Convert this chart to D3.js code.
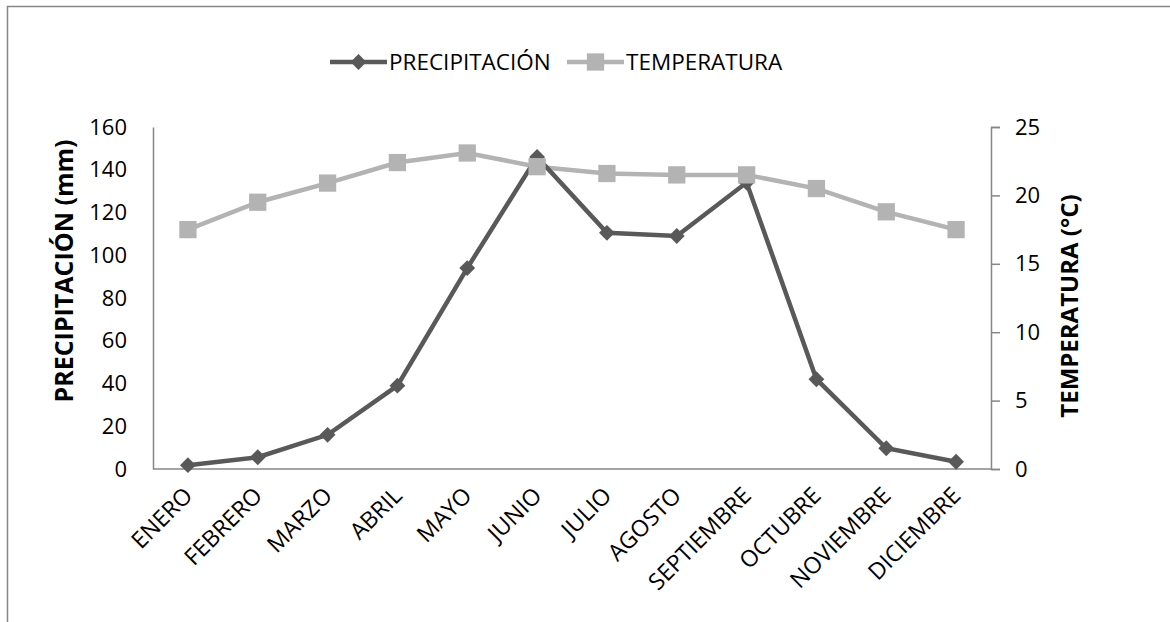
<!DOCTYPE html>
<html>
<head>
<meta charset="utf-8">
<script src="https://cdn.jsdelivr.net/npm/d3@7"></script>
<style>
  body { margin: 0; background: #fff; }
  svg text { font-family: "Open Sans", "Noto Sans", sans-serif; fill: #000; }
</style>
</head>
<body>
<div id="chart"></div>
<script>
var width = 1170;
var height = 622;

// datos
var meses = ["ENERO", "FEBRERO", "MARZO", "ABRIL", "MAYO", "JUNIO", "JULIO",
  "AGOSTO", "SEPTIEMBRE", "OCTUBRE", "NOVIEMBRE", "DICIEMBRE"];
var precipitacion = [1.8, 5.5, 16, 39, 94, 146, 110.5, 109, 134, 42, 9.7, 3.4];
var temperatura = [17.5, 19.5, 20.9, 22.4, 23.1, 22.1, 21.6, 21.5, 21.5, 20.5, 18.8, 17.5];
var ticksIzq = [0, 20, 40, 60, 80, 100, 120, 140, 160];
var ticksDer = [0, 5, 10, 15, 20, 25];

var colorPrec = "#595959";
var colorTemp = "#b3b3b3";
var colorEje = "#868686";

var margin = { left: 153, right: 991, top: 127, bottom: 469 };

var svg = d3.select("#chart").append("svg")
  .attr("width", width)
  .attr("height", height);

// marco exterior (recortado a la derecha y abajo)
svg.append("rect")
  .attr("x", 7.5).attr("y", 6.5)
  .attr("width", 1200).attr("height", 700)
  .attr("fill", "none")
  .attr("stroke", colorEje)
  .attr("stroke-width", 1.5);

var x = d3.scaleBand()
  .domain(meses)
  .range([margin.left, margin.right]);

var yIzq = d3.scaleLinear()
  .domain([0, 160])
  .range([margin.bottom, margin.top]);

var yDer = d3.scaleLinear()
  .domain([0, 25])
  .range([margin.bottom, margin.top]);

// eje izquierdo
var ejeIzq = svg.append("g")
  .attr("transform", "translate(" + margin.left + ",0)")
  .call(d3.axisLeft(yIzq).tickValues(ticksIzq).tickSize(0).tickPadding(26));
ejeIzq.select(".domain").attr("stroke", colorEje).attr("stroke-width", 1.5);
ejeIzq.selectAll("text").attr("font-size", 22).attr("fill", "#000");

// eje derecho
var ejeDer = svg.append("g")
  .attr("transform", "translate(" + margin.right + ",0)")
  .call(d3.axisRight(yDer).tickValues(ticksDer).tickSize(9).tickSizeOuter(9).tickPadding(15));
ejeDer.select(".domain").attr("stroke", colorEje).attr("stroke-width", 1.5);
ejeDer.selectAll("line").attr("stroke", colorEje).attr("stroke-width", 1.5);
ejeDer.selectAll("text").attr("font-size", 22).attr("fill", "#000");

// eje inferior
svg.append("line")
  .attr("x1", margin.left).attr("x2", margin.right)
  .attr("y1", margin.bottom).attr("y2", margin.bottom)
  .attr("stroke", colorEje)
  .attr("stroke-width", 1.5);

// etiquetas de meses
svg.selectAll("text.mes")
  .data(meses)
  .enter()
  .append("text")
  .attr("class", "mes")
  .attr("font-size", 23)
  .attr("text-anchor", "end")
  .attr("transform", function(d) {
    var cx = x(d) + x.bandwidth() / 2 + 6;
    return "translate(" + cx + ",497) rotate(-45)";
  })
  .text(function(d) { return d; });

// titulos de ejes
svg.append("text")
  .attr("font-size", 25)
  .attr("font-weight", "bold")
  .attr("text-anchor", "middle")
  .attr("transform", "translate(73,271) rotate(-90)")
  .text("PRECIPITACIÓN (mm)");

svg.append("text")
  .attr("font-size", 24)
  .attr("font-weight", "bold")
  .attr("text-anchor", "middle")
  .attr("transform", "translate(1078,306) rotate(-90)")
  .text("TEMPERATURA (°C)");

function cx(i) { return x(meses[i]) + x.bandwidth() / 2; }

// linea de temperatura
var lineaTemp = d3.line()
  .x(function(d, i) { return cx(i); })
  .y(function(d) { return yDer(d); });

svg.append("path")
  .datum(temperatura)
  .attr("d", lineaTemp)
  .attr("fill", "none")
  .attr("stroke", colorTemp)
  .attr("stroke-width", 4.5);

// linea de precipitacion
var lineaPrec = d3.line()
  .x(function(d, i) { return cx(i); })
  .y(function(d) { return yIzq(d); });

svg.append("path")
  .datum(precipitacion)
  .attr("d", lineaPrec)
  .attr("fill", "none")
  .attr("stroke", colorPrec)
  .attr("stroke-width", 4.5);

var rombo = d3.symbol().type(d3.symbolDiamond2).size(160);
var cuadro = d3.symbol().type(d3.symbolSquare2).size(380);

svg.selectAll("path.rombo")
  .data(precipitacion)
  .enter()
  .append("path")
  .attr("class", "rombo")
  .attr("d", rombo)
  .attr("transform", function(d, i) { return "translate(" + cx(i) + "," + yIzq(d) + ")"; })
  .attr("fill", colorPrec);

svg.selectAll("path.cuadro")
  .data(temperatura)
  .enter()
  .append("path")
  .attr("class", "cuadro")
  .attr("d", cuadro)
  .attr("transform", function(d, i) { return "translate(" + cx(i) + "," + yDer(d) + ")"; })
  .attr("fill", colorTemp);

// leyenda
var leyenda = [
  { nombre: "PRECIPITACIÓN", color: colorPrec, simbolo: rombo, x: 330 },
  { nombre: "TEMPERATURA", color: colorTemp, simbolo: cuadro, x: 567 }
];

var items = svg.selectAll("g.leyenda")
  .data(leyenda)
  .enter()
  .append("g")
  .attr("class", "leyenda")
  .attr("transform", function(d) { return "translate(" + d.x + ",62)"; });

items.append("line")
  .attr("x1", 0).attr("x2", 57)
  .attr("stroke", function(d) { return d.color; })
  .attr("stroke-width", 4.5);

items.append("path")
  .attr("d", function(d) { return d.simbolo(); })
  .attr("transform", "translate(28.5,0)")
  .attr("fill", function(d) { return d.color; });

items.append("text")
  .attr("x", 59)
  .attr("y", 8)
  .attr("font-size", 22.5)
  .text(function(d) { return d.nombre; });
</script>
</body>
</html>
